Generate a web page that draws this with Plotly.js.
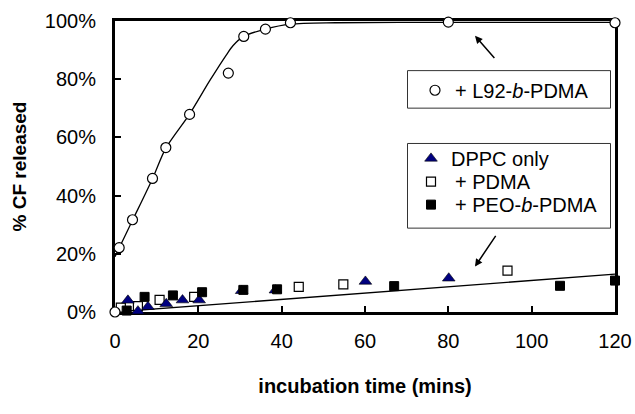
<!DOCTYPE html>
<html>
<head>
<meta charset="utf-8">
<script src="https://cdn.plot.ly/plotly-3.0.1.min.js"></script>
<style>html,body{margin:0;padding:0;background:#fff;}#chart{width:635px;height:414px;}</style>
</head>
<body>
<div id="chart"></div>
<script>
// ---- data (minutes, % CF released) ----
const l92Time = [0, 1.0, 4.2, 9.0, 12.2, 17.9, 27.2, 30.9, 36.1, 42.1, 52.9, 80.0, 120.0];
const l92Pct  = [0, 22.1, 31.7, 45.9, 56.5, 67.9, 82.1, 94.7, 97.2, 99.4, 100.3, 99.6, 99.4];

const l92FitTime = [0, 1.0, 4.2, 9.0, 12.2, 17.9, 22.7, 26.7, 28.3, 30.9, 36.1, 42.1, 52.9, 80.0, 120.0];
const l92FitPct  = [19.0, 22.0, 31.5, 45.8, 56.3, 68.0, 79.4, 88.3, 91.5, 94.7, 97.2, 98.9, 99.4, 99.5, 99.5];

const dppcTime = [3.1, 5.5, 7.9, 12.3, 16.2, 20.2, 30.4, 38.5, 60.1, 80.1];
const dppcPct  = [4.0, 0.3, 1.8, 2.8, 4.1, 4.1, 7.3, 7.5, 10.5, 11.6];

const pdmaTime = [1.4, 5.5, 10.7, 19.0, 44.1, 54.8, 94.2];
const pdmaPct  = [1.5, 2.0, 4.2, 5.2, 8.6, 9.5, 14.2];

const peoTime = [2.8, 7.1, 13.9, 20.9, 30.8, 38.9, 67.0, 106.8, 120.0];
const peoPct  = [0.5, 5.2, 5.7, 6.8, 7.6, 7.8, 8.9, 9.0, 10.8];

const linFitTime = [0, 120];
const linFitPct  = [0, 13.0];

const xTicks = [0, 20, 40, 60, 80, 100, 120];
const yTicks = [0, 20, 40, 60, 80, 100];
const yTickText = ['0%', '20%', '40%', '60%', '80%', '100%'];

// ---- chart ----
const FONT = 'Arial, "Liberation Sans", sans-serif';
const legFont = {family: FONT, size: 20, color: '#000'};
function leg(x, y) {
  return {x: x, y: y, xanchor: 'left', yanchor: 'top', bgcolor: 'rgba(0,0,0,0)', borderwidth: 0, font: legFont};
}

const traces = [
  {x: l92FitTime, y: l92FitPct, mode: 'lines', line: {color: '#000', width: 1.3, shape: 'spline', smoothing: 0.8},
   showlegend: false, hoverinfo: 'skip'},
  {x: linFitTime, y: linFitPct, mode: 'lines', line: {color: '#000', width: 1.3},
   showlegend: false, hoverinfo: 'skip'},
  {x: pdmaTime, y: pdmaPct, mode: 'markers', name: '\u2009+ PDMA', legend: 'legend3', cliponaxis: false,
   marker: {symbol: 'square', size: 9, color: '#fff', line: {color: '#000', width: 1.2}}},
  {x: dppcTime, y: dppcPct, mode: 'markers', name: 'DPPC only', legend: 'legend2', cliponaxis: false,
   marker: {symbol: 'triangle-up', size: 11, color: '#000080', line: {color: '#000', width: 0.6}}},
  {x: peoTime, y: peoPct, mode: 'markers', name: '\u2009+ PEO-<i>b</i>-PDMA', legend: 'legend4', cliponaxis: false,
   marker: {symbol: 'square', size: 9, color: '#000', line: {color: '#000', width: 1}}},
  {x: l92Time, y: l92Pct, mode: 'markers', name: '+ L92-<i>b</i>-PDMA', legend: 'legend', cliponaxis: false,
   marker: {symbol: 'circle', size: 10, color: '#fff', line: {color: '#000', width: 1.2}}}
];

const layout = {
  width: 635, height: 414,
  margin: {l: 115, r: 20, t: 20.5, b: 102},
  paper_bgcolor: '#fff', plot_bgcolor: '#fff',
  font: {family: FONT, size: 20, color: '#000'},
  showlegend: true,
  xaxis: {
    range: [0, 120], tickvals: xTicks, ticks: 'inside', ticklen: 6, tickwidth: 2, tickcolor: '#000',
    showline: true, linewidth: 3, linecolor: '#000', mirror: true, showgrid: false, zeroline: false,
    layer: 'below traces', ticklabelstandoff: 9,
    title: {text: 'incubation time (mins)', font: {size: 20, weight: 'bold'}, standoff: 28}
  },
  yaxis: {
    range: [0, 100], tickvals: yTicks, ticktext: yTickText, ticks: 'inside', ticklen: 6, tickwidth: 2, tickcolor: '#000',
    showline: true, linewidth: 3, linecolor: '#000', mirror: true, showgrid: false, zeroline: false,
    layer: 'below traces', ticklabelstandoff: 12,
    title: {text: '% CF released', font: {size: 19, weight: 'bold'}, standoff: 14}
  },
  legend: leg(0.600, 0.8291),
  legend2: leg(0.592, 0.5949),
  legend3: leg(0.592, 0.5153),
  legend4: leg(0.592, 0.4360),
  shapes: [
    {type: 'rect', xref: 'paper', yref: 'paper', x0: 0.585, x1: 0.991, y0: 0.7005, y1: 0.8295,
     line: {color: '#333', width: 1}, fillcolor: 'rgba(0,0,0,0)'},
    {type: 'rect', xref: 'paper', yref: 'paper', x0: 0.585, x1: 0.991, y0: 0.2882, y1: 0.5791,
     line: {color: '#333', width: 1}, fillcolor: 'rgba(0,0,0,0)'}
  ],
  annotations: [
    {x: 86.4, y: 94.9, xref: 'x', yref: 'y', ax: 20.7, ay: 23.7, axref: 'pixel', ayref: 'pixel',
     showarrow: true, arrowhead: 2, arrowsize: 1, arrowwidth: 1.5, arrowcolor: '#000', text: ''},
    {x: 86.4, y: 15.6, xref: 'x', yref: 'y', ax: 21.7, ay: -32.3, axref: 'pixel', ayref: 'pixel',
     showarrow: true, arrowhead: 2, arrowsize: 1, arrowwidth: 1.5, arrowcolor: '#000', text: ''}
  ]
};

Plotly.newPlot('chart', traces, layout, {displayModeBar: false, staticPlot: true});
</script>
</body>
</html>
